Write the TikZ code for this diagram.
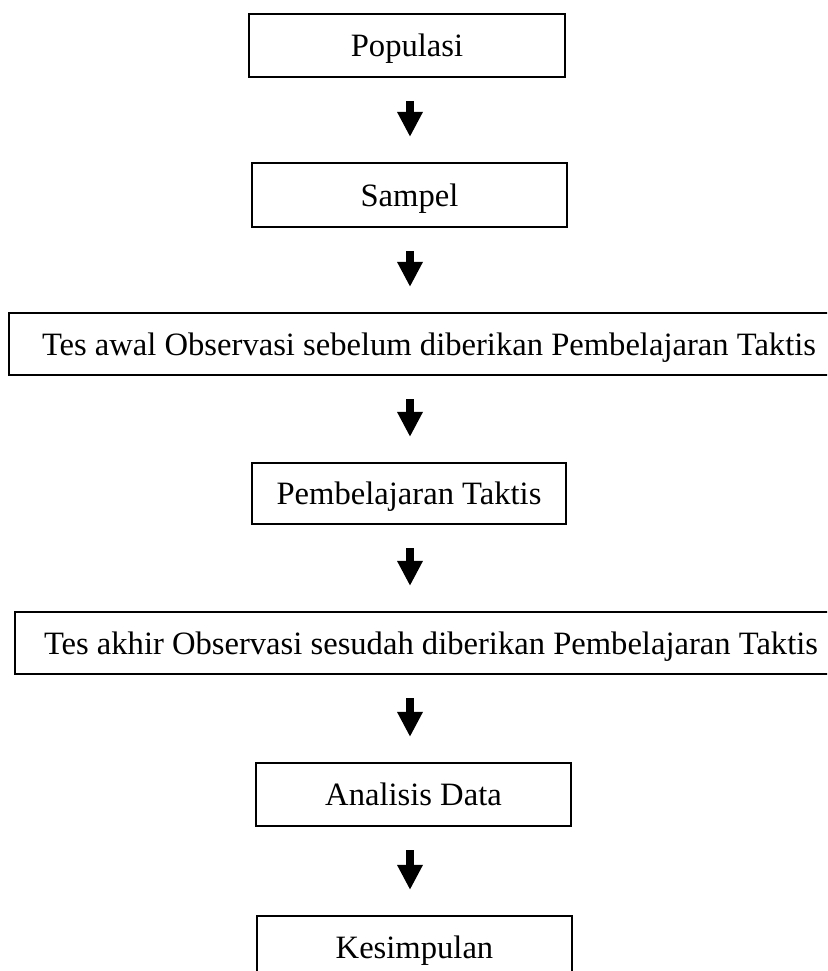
\documentclass[tikz,border=0pt]{standalone}
\usepackage{fontspec}
\setmainfont{Liberation Serif}
\usetikzlibrary{arrows.meta}
\begin{document}
\begin{tikzpicture}[x=0.5pt,y=-0.5pt,
  box/.style={draw=black, line width=1.1pt, inner sep=0pt, text depth=0pt, font=\fontsize{16.3pt}{19pt}\selectfont, minimum height=31pt},
  arr/.style={line width=4pt, line cap=butt, -{Triangle[width=12pt,length=12.5pt]}, shorten <=11.5pt, shorten >=12.5pt}]
\useasboundingbox (0,0) rectangle (827,971);
\clip (0,0) rectangle (827,971);
\coordinate (ax) at (410,0);
\node[box, minimum width=158pt, minimum height=31.5pt] (pop) at (407,45.5) {Populasi};
\node[box, minimum width=157.5pt, minimum height=32pt] (sam) at (409.5,195) {Sampel};
\node[box, minimum width=420pt] (awal) at (429,344) {Tes awal Observasi sebelum diberikan Pembelajaran Taktis};
\node[box, minimum width=157pt, minimum height=30.5pt] (pem) at (409,493.5) {Pembelajaran Taktis};
\node[box, minimum width=416pt] (akhir) at (431,643) {Tes akhir Observasi sesudah diberikan Pembelajaran Taktis};
\node[box, minimum width=157.5pt, minimum height=31.5pt] (ana) at (413.5,794.5) {Analisis Data};
\node[box, minimum width=157.5pt, minimum height=31.5pt] (kes) at (414.5,947.5) {Kesimpulan};
\draw[arr] (pop.south -| ax) -- (sam.north -| ax);
\draw[arr] (sam.south -| ax) -- (awal.north -| ax);
\draw[arr] (awal.south -| ax) -- (pem.north -| ax);
\draw[arr] (pem.south -| ax) -- (akhir.north -| ax);
\draw[arr] (akhir.south -| ax) -- (ana.north -| ax);
\draw[arr] (ana.south -| ax) -- (kes.north -| ax);
\end{tikzpicture}
\end{document}
